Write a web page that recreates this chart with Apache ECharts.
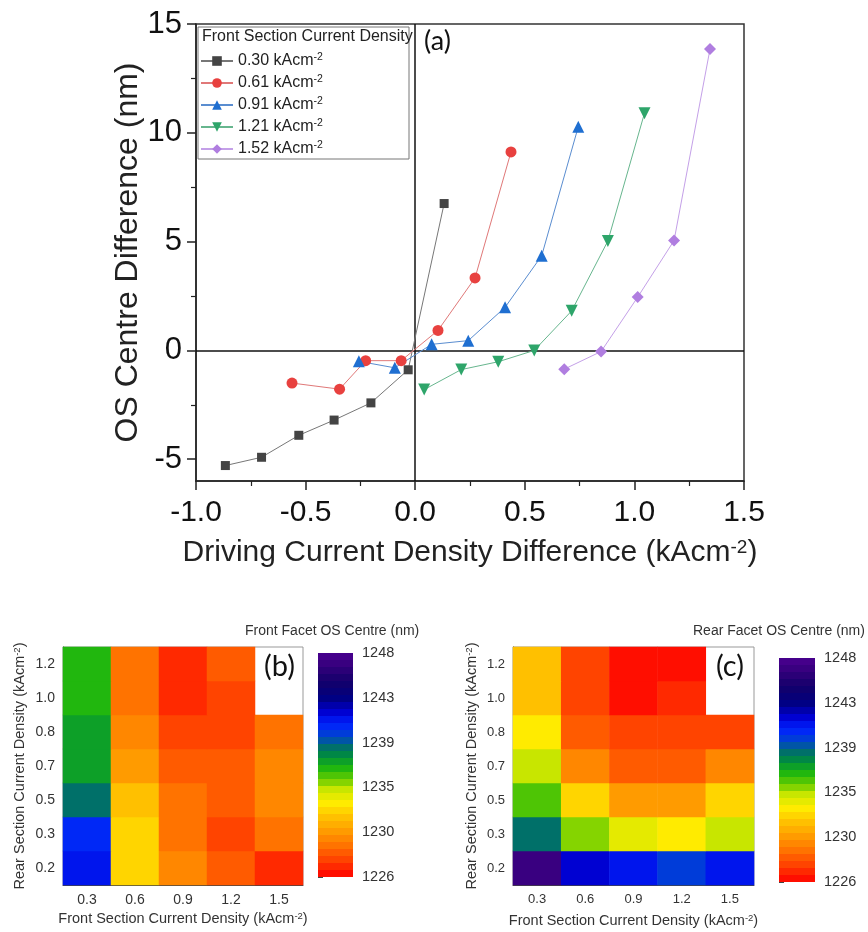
<!DOCTYPE html>
<html><head><meta charset="utf-8">
<script src="https://cdn.jsdelivr.net/npm/echarts@6/dist/echarts.min.js"></script>
<style>html,body{margin:0;padding:0;background:#fff}#c{width:868px;height:932px}</style>
</head><body><div id="c"></div>
<script>
// ---------- data ----------
const seriesLabels = ['0.30', '0.61', '0.91', '1.21', '1.52'];
const x030 = [-0.866, -0.701, -0.531, -0.370, -0.202, -0.032, 0.132];
const y030 = [-5.29, -4.91, -3.90, -3.20, -2.41, -0.89, 6.75];
const x061 = [-0.562, -0.345, -0.226, -0.064, 0.104, 0.273, 0.437];
const y061 = [-1.50, -1.78, -0.47, -0.47, 0.92, 3.33, 9.12];
const x091 = [-0.257, -0.093, 0.075, 0.242, 0.410, 0.577, 0.744];
const y091 = [-0.50, -0.80, 0.28, 0.45, 1.98, 4.35, 10.28];
const x121 = [0.041, 0.210, 0.379, 0.543, 0.714, 0.879, 1.046];
const y121 = [-1.80, -0.88, -0.52, 0.00, 1.82, 5.03, 10.90];
const x152 = [0.680, 0.848, 1.015, 1.181, 1.345];
const y152 = [-0.86, -0.05, 2.45, 5.05, 13.85];

const frontX = ['0.3', '0.6', '0.9', '1.2', '1.5'];
const rearY = ['0.2', '0.3', '0.5', '0.7', '0.8', '1.0', '1.2'];
// rows follow rearY (bottom to top), columns follow frontX
const frontFacet = [
  [1241.5, 1232.6, 1229.8, 1228.3, 1227.0],
  [1240.5, 1232.3, 1228.8, 1227.8, 1229.0],
  [1239.0, 1231.5, 1228.8, 1228.3, 1229.8],
  [1237.3, 1230.5, 1228.3, 1228.3, 1229.8],
  [1237.3, 1229.8, 1227.8, 1227.8, 1229.0],
  [1236.8, 1228.8, 1227.0, 1227.5, null],
  [1236.8, 1228.8, 1227.0, 1228.3, null]
];
const rearFacet = [
  [1247.0, 1242.0, 1241.5, 1240.0, 1241.3],
  [1239.0, 1235.3, 1233.8, 1233.3, 1234.8],
  [1235.8, 1232.3, 1230.8, 1230.8, 1232.5],
  [1234.8, 1229.5, 1228.3, 1228.3, 1229.8],
  [1233.3, 1228.5, 1227.8, 1227.8, 1228.0],
  [1231.5, 1227.5, 1226.3, 1226.8, null],
  [1231.5, 1227.5, 1226.3, 1226.3, null]
];
const cbTicks = ['1226', '1230', '1235', '1239', '1243', '1248'];
const cbMin = 1226, cbMax = 1248;

// ---------- styling ----------
const FONT = '"Liberation Sans", Arial, sans-serif';
const LBL = 'Lato, "Open Sans", sans-serif';
const colorStops = [
  [1226, '#ff0000'], [1227.5, '#ff3c00'], [1229, '#ff7000'], [1230.5, '#ff9c00'],
  [1232, '#ffc400'], [1233.3, '#ffee00'], [1234.6, '#c8e600'], [1235.6, '#66cc00'],
  [1236.8, '#18b410'], [1238, '#008844'], [1239, '#006678'], [1239.7, '#0048c8'],
  [1241, '#0022ff'], [1242.2, '#0000d0'], [1243.6, '#000080'], [1245.2, '#14006a'],
  [1247, '#3a0080'], [1248, '#4b0090']
];
function h2r(h) { return [1, 3, 5].map(i => parseInt(h.substr(i, 2), 16)); }
function colorAt(v) {
  for (let i = 0; i < colorStops.length - 1; i++) {
    const [a, ca] = colorStops[i], [b, cb] = colorStops[i + 1];
    if (v >= a && v <= b) {
      const t = (v - a) / (b - a), A = h2r(ca), B = h2r(cb);
      return 'rgb(' + A.map((x, k) => Math.round(x + (B[k] - x) * t)).join(',') + ')';
    }
  }
  return v < cbMin ? colorStops[0][1] : colorStops[colorStops.length - 1][1];
}
const NB = 32, BAND_H = 7;
const pieces = [];
for (let i = 0; i < NB; i++) {
  const lo = cbMin + i * (cbMax - cbMin) / NB, hi = cbMin + (i + 1) * (cbMax - cbMin) / NB;
  pieces.push({ gte: lo, lt: i === NB - 1 ? hi + 1 : hi, color: colorAt((lo + hi) / 2) });
}

const lineSpecs = [
  { x: x030, y: y030, color: '#444444', line: '#777777', symbol: 'rect', size: 9, rot: 0 },
  { x: x061, y: y061, color: '#e8413f', line: '#e07878', symbol: 'circle', size: 11, rot: 0 },
  { x: x091, y: y091, color: '#1f6fd1', line: '#5a8dd0', symbol: 'triangle', size: 12, rot: 0 },
  { x: x121, y: y121, color: '#2ea56a', line: '#67b68e', symbol: 'triangle', size: 12, rot: 180 },
  { x: x152, y: y152, color: '#b07ee0', line: '#c4a0e8', symbol: 'diamond', size: 12, rot: 0 }
];

const series = lineSpecs.map((s, i) => ({
  name: seriesLabels[i],
  type: 'line',
  xAxisIndex: 0, yAxisIndex: 0,
  data: s.x.map((xv, k) => [xv, s.y[k]]),
  symbol: s.symbol, symbolSize: s.size, symbolRotate: s.rot,
  itemStyle: { color: s.color },
  lineStyle: { color: s.line, width: 1 },
  z: 5,
  markLine: i === 0 ? {
    silent: true, symbol: 'none', label: { show: false },
    lineStyle: { color: '#111', width: 1.5, type: 'solid' },
    data: [{ xAxis: 0 }, { yAxis: 0 }]
  } : undefined
}));

function heatData(mat) {
  const out = [];
  mat.forEach((row, yi) => row.forEach((v, xi) => { if (v != null) out.push([xi, yi, v]); }));
  return out;
}
series.push({ type: 'heatmap', xAxisIndex: 1, yAxisIndex: 2, data: heatData(frontFacet), emphasis: { disabled: true } });
series.push({ type: 'heatmap', xAxisIndex: 2, yAxisIndex: 3, data: heatData(rearFacet), emphasis: { disabled: true } });

const supRich = (fs, c) => ({ s: { fontSize: fs, verticalAlign: 'top', fontFamily: FONT, color: c || '#222' } });

function heatX(grid, fs, gap) {
  return {
    gridIndex: grid, type: 'category', data: frontX,
    axisLine: { lineStyle: { color: '#444', width: 1 } },
    axisTick: { alignWithLabel: true, length: 4, lineStyle: { color: '#444' } },
    axisLabel: { fontSize: fs, color: '#333', margin: 8, fontFamily: FONT },
    name: 'Front Section Current Density (kAcm{s|-2})', nameLocation: 'middle', nameGap: gap,
    nameTextStyle: { fontSize: 14.5, color: '#333', fontFamily: FONT, rich: supRich(9.5, '#333') }
  };
}
function heatY(grid, fs, gap) {
  return {
    gridIndex: grid, type: 'category', data: rearY,
    axisLine: { lineStyle: { color: '#444', width: 1 } },
    axisTick: { alignWithLabel: true, length: 4, lineStyle: { color: '#444' } },
    axisLabel: { fontSize: fs, color: '#333', margin: 8, fontFamily: FONT },
    name: 'Rear Section Current Density (kAcm{s|-2})', nameLocation: 'middle', nameGap: gap,
    nameTextStyle: { fontSize: 14.5, color: '#333', fontFamily: FONT, rich: supRich(9.5, '#333') }
  };
}
function cbAxis(grid) {
  return {
    gridIndex: grid, type: 'value', min: 0, max: 5, interval: 1, position: 'right',
    axisLine: { show: false }, splitLine: { show: false },
    axisTick: { show: true, length: 5, lineStyle: { color: '#444' } },
    axisLabel: { fontSize: 14.5, color: '#333', margin: 9, fontFamily: FONT, formatter: v => cbTicks[v] }
  };
}

const option = {
  backgroundColor: '#fff',
  animation: false,
  textStyle: { fontFamily: FONT },
  grid: [
    { left: 196, top: 24, width: 548, height: 457, show: true, borderColor: '#333', borderWidth: 1.5, containLabel: false },
    { left: 63, top: 647, width: 240, height: 238, show: true, borderColor: '#999', borderWidth: 1 },
    { left: 513, top: 647, width: 241, height: 238, show: true, borderColor: '#999', borderWidth: 1 },
    { left: 318, top: 653, width: 35, height: NB * BAND_H },
    { left: 779, top: 658, width: 36, height: NB * BAND_H }
  ],
  xAxis: [
    {
      gridIndex: 0, type: 'value', min: -1, max: 1.5, interval: 0.5,
      axisLine: { onZero: false, lineStyle: { color: '#222', width: 1.5 } },
      axisTick: { length: 9, lineStyle: { color: '#222', width: 1.5 } },
      minorTick: { show: true, splitNumber: 2, length: 5, lineStyle: { color: '#222', width: 1.2 } },
      splitLine: { show: false },
      axisLabel: { fontSize: 30, color: '#111', margin: 17, fontFamily: FONT, formatter: v => v.toFixed(1) },
      name: 'Driving Current Density Difference (kAcm{s|-2})', nameLocation: 'middle', nameGap: 57,
      nameMoveOverlap: false,
      nameTextStyle: { fontSize: 30, color: '#222', fontFamily: FONT, rich: supRich(19) }
    },
    heatX(1, 14, 26),
    heatX(2, 13, 28),
    { gridIndex: 3, show: false, type: 'value' },
    { gridIndex: 4, show: false, type: 'value' }
  ],
  yAxis: [
    {
      gridIndex: 0, type: 'value', min: -6, max: 15,
      axisLine: { onZero: false, lineStyle: { color: '#222', width: 1.5 } },
      axisTick: { length: 9, customValues: [-5, 0, 5, 10, 15], lineStyle: { color: '#222', width: 1.5 } },
      splitLine: { show: false },
      axisLabel: { fontSize: 31, color: '#111', margin: 14, fontFamily: FONT, customValues: [-5, 0, 5, 10, 15] },
      name: 'OS Centre Difference (nm)', nameLocation: 'middle', nameGap: 52,
      nameMoveOverlap: false,
      nameTextStyle: { fontSize: 32, color: '#222', fontFamily: FONT }
    },
    {
      gridIndex: 0, type: 'value', min: -6, max: 15, position: 'left',
      axisLine: { show: false, onZero: false },
      axisTick: { length: 5, customValues: [-2.5, 2.5, 7.5, 12.5], lineStyle: { color: '#222', width: 1.2 } },
      axisLabel: { show: false }, splitLine: { show: false }
    },
    heatY(1, 14, 36),
    heatY(2, 13, 34),
    cbAxis(3),
    cbAxis(4)
  ],
  legend: {
    orient: 'vertical', left: 200, top: 52, padding: 0, itemGap: 4,
    itemWidth: 32, itemHeight: 12,
    data: seriesLabels,
    formatter: n => n + ' kAcm{s|-2}',
    textStyle: { fontSize: 16, color: '#222', fontFamily: FONT, lineHeight: 18, rich: supRich(10.5) },
    selectedMode: false
  },
  visualMap: [
    {
      type: 'piecewise', seriesIndex: 5, pieces: pieces, orient: 'vertical',
      left: 318, top: 653, itemWidth: 35, itemHeight: BAND_H, itemGap: 0,
      itemSymbol: 'rect', showLabel: false, selectedMode: false, padding: 0, hoverLink: false
    },
    {
      type: 'piecewise', seriesIndex: 6, pieces: pieces, orient: 'vertical',
      left: 779, top: 658, itemWidth: 36, itemHeight: BAND_H, itemGap: 0,
      itemSymbol: 'rect', showLabel: false, selectedMode: false, padding: 0, hoverLink: false
    }
  ],
  graphic: [
    { type: 'rect', shape: { x: 198, y: 27, width: 211, height: 132 }, style: { fill: 'none', stroke: '#777', lineWidth: 1 }, z: 10 },
    { type: 'text', left: 202, top: 29, style: { text: 'Front Section Current Density', fontSize: 16, fill: '#222', fontFamily: FONT }, z: 10 },
    { type: 'text', left: 424, top: 28, style: { text: '(a)', fontSize: 27, fill: '#111', fontFamily: LBL }, z: 10 },
    { type: 'text', left: 264, top: 652, style: { text: '(b)', fontSize: 29, fill: '#111', fontFamily: LBL }, z: 10 },
    { type: 'text', left: 716, top: 652, style: { text: '(c)', fontSize: 29, fill: '#111', fontFamily: LBL }, z: 10 },
    { type: 'text', left: 245, top: 624, style: { text: 'Front Facet OS Centre (nm)', fontSize: 14, fill: '#333', fontFamily: FONT } },
    { type: 'text', left: 693, top: 624, style: { text: 'Rear Facet OS Centre (nm)', fontSize: 14, fill: '#333', fontFamily: FONT } }
  ],
  series: series
};
const chart = echarts.init(document.getElementById('c'));
chart.setOption(option);
</script>
</body></html>
